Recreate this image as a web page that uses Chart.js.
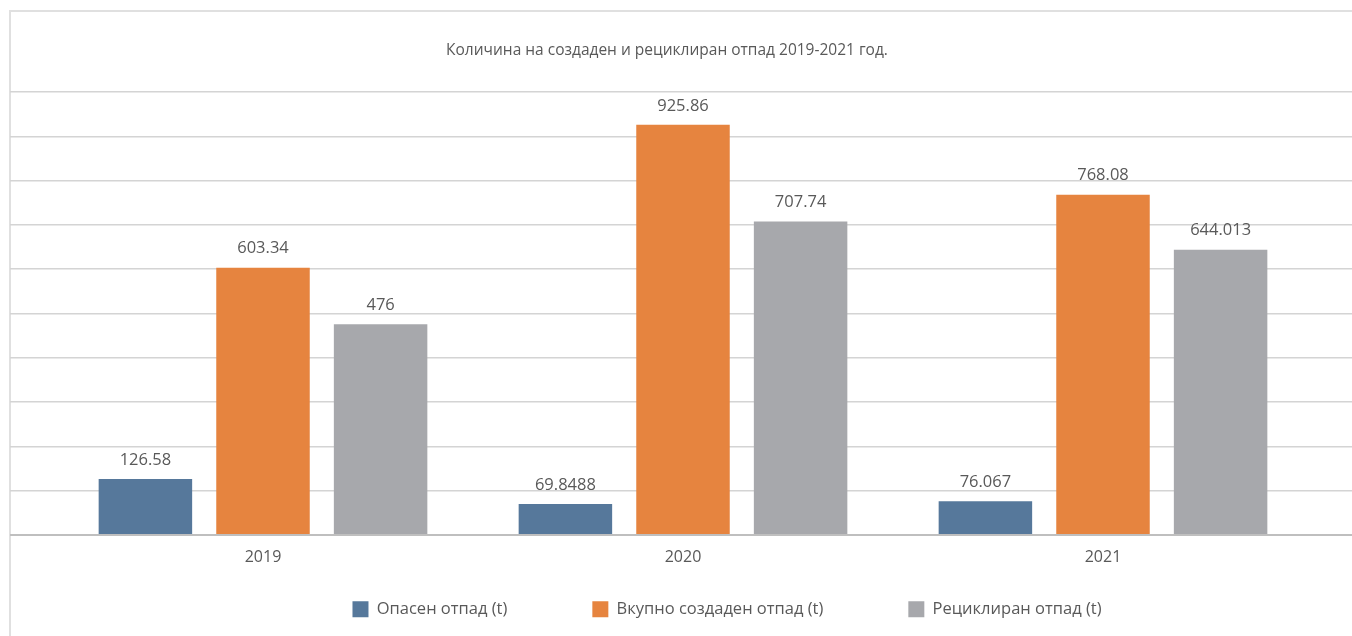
<!DOCTYPE html>
<html>
<head>
<meta charset="utf-8">
<script src="https://cdn.jsdelivr.net/npm/chart.js@4.4.1/dist/chart.umd.min.js"></script>
<style>
html,body{margin:0;padding:0;background:#fff;overflow:hidden;}
#wrap{position:relative;width:1352px;height:636px;overflow:hidden;}
#frame{position:absolute;left:9px;top:10px;width:1400px;height:700px;border-left:2px solid #e0e0e0;border-top:2px solid #e0e0e0;box-sizing:border-box;}
canvas{position:absolute;left:0;top:0;}
</style>
</head>
<body>
<div id="wrap"><div id="frame"></div><canvas id="c" width="1352" height="636"></canvas></div>
<script>
// ---- data ----
const chartTitle = 'Количина на создаден и рециклиран отпад 2019-2021 год.';
const categories = ['2019', '2020', '2021'];
const seriesNames = ['Опасен отпад (t)', 'Вкупно создаден отпад (t)', 'Рециклиран отпад (t)'];
const hazardousWaste = [126.58, 69.8488, 76.067];
const totalWaste = [603.34, 925.86, 768.08];
const recycledWaste = [476, 707.74, 644.013];
const yAxisMin = 0;
const yAxisMax = 1000;
const yAxisStep = 100;

const colors = ['#56789B', '#E6843F', '#A7A8AC'];
const textColor = '#595959';
const FONT = 'Open Sans';

const valueLabelPlugin = {
  id: 'valueLabels',
  afterDatasetsDraw(chart) {
    const ctx = chart.ctx;
    ctx.save();
    ctx.font = '16.5px "' + FONT + '"';
    ctx.fillStyle = textColor;
    ctx.textAlign = 'center';
    ctx.textBaseline = 'middle';
    chart.data.datasets.forEach((ds, i) => {
      chart.getDatasetMeta(i).data.forEach((bar, j) => {
        ctx.fillText(String(ds.data[j]), bar.x, bar.y - 19);
      });
    });
    ctx.restore();
  }
};

const LEGEND_PAD = 85;
const layoutTweak = {
  id: 'layoutTweak',
  afterLayout(chart) {
    // category axis spans a narrower band than the gridlines (Excel-like plot area)
    const xs = chart.scales.x;
    const ca = chart.chartArea;
    xs.left = ca.left + 43;
    xs.right = ca.right - 39;
    xs.width = xs.right - xs.left;
    xs.configure();
    // title horizontal position
    if (chart.titleBlock) {
      chart.titleBlock.left -= 28;
    }
    // legend position
    if (chart.legend) {
      chart.legend.left += 46;
      chart.legend.right += 46;
      chart.legend.top = 601 - LEGEND_PAD;
      chart.legend.bottom = 636;
      chart.legend.height = chart.legend.bottom - chart.legend.top;
    }
  }
};

function draw() {
  new Chart(document.getElementById('c'), {
    type: 'bar',
    data: {
      labels: categories,
      datasets: [
        { label: seriesNames[0], data: hazardousWaste, backgroundColor: colors[0] },
        { label: seriesNames[1], data: totalWaste, backgroundColor: colors[1] },
        { label: seriesNames[2], data: recycledWaste, backgroundColor: colors[2] }
      ]
    },
    options: {
      responsive: false,
      animation: false,
      devicePixelRatio: 1,
      categoryPercentage: 0.84,
      barPercentage: 0.795,
      layout: { padding: { left: 10, right: 0, top: 10, bottom: 15.8 } },
      plugins: {
        title: {
          display: true,
          text: chartTitle,
          color: textColor,
          font: { family: FONT, size: 15.5, weight: 'normal' },
          padding: { top: 31.7, bottom: 31.7 }
        },
        legend: {
          position: 'bottom',
          maxHeight: 40,
          labels: {
            boxWidth: 16,
            boxHeight: 16,
            padding: LEGEND_PAD,
            color: textColor,
            font: { family: FONT, size: 16.5 }
          }
        },
        tooltip: { enabled: false }
      },
      scales: {
        x: {
          grid: { display: false, drawTicks: false },
          border: { display: false },
          ticks: { color: textColor, font: { family: FONT, size: 16 }, padding: 13 }
        },
        y: {
          min: yAxisMin,
          max: yAxisMax,
          ticks: { display: false, stepSize: yAxisStep },
          grid: {
            drawTicks: false,
            color: (c) => (c.tick && c.tick.value === 0 ? '#bfbfbf' : '#d4d4d4'),
            lineWidth: (c) => (c.tick && c.tick.value === 0 ? 2 : 1.5)
          },
          border: { display: false }
        }
      }
    },
    plugins: [valueLabelPlugin, layoutTweak]
  });
}

if (document.fonts && document.fonts.load) {
  Promise.all([
    document.fonts.load('16px "' + FONT + '"'),
    document.fonts.load('15.5px "' + FONT + '"')
  ]).then(draw, draw);
} else {
  draw();
}
</script>
</body>
</html>
